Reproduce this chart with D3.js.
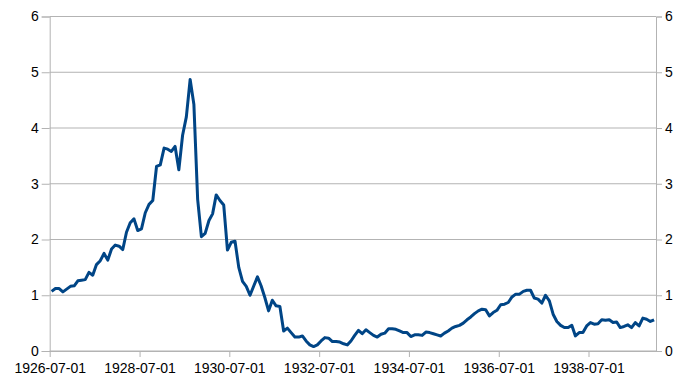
<!DOCTYPE html>
<html>
<head>
<meta charset="utf-8">
<script src="https://cdn.jsdelivr.net/npm/d3@7"></script>
<style>
  body { margin: 0; background: #fff; }
  text { font-family: "Liberation Sans", Arial, sans-serif; font-size: 14px; fill: #000; }
</style>
</head>
<body>
<svg id="chart" width="687" height="386"></svg>
<script>
// monthly values, one array per year (1926 starts in July)
const v1926 = [1.07, 1.12, 1.12, 1.06, 1.11, 1.16];
const v1927 = [1.17, 1.26, 1.27, 1.28, 1.41, 1.36, 1.55, 1.62, 1.75, 1.63, 1.83, 1.90];
const v1928 = [1.88, 1.82, 2.13, 2.30, 2.37, 2.16, 2.19, 2.48, 2.63, 2.70, 3.31, 3.34];
const v1929 = [3.64, 3.62, 3.58, 3.67, 3.25, 3.87, 4.20, 4.87, 4.42, 2.72, 2.05, 2.11];
const v1930 = [2.34, 2.46, 2.80, 2.70, 2.62, 1.81, 1.95, 1.97, 1.50, 1.25, 1.16, 1.00];
const v1931 = [1.17, 1.33, 1.17, 0.96, 0.72, 0.91, 0.81, 0.80, 0.36, 0.41, 0.33, 0.25];
const v1932 = [0.25, 0.27, 0.18, 0.11, 0.08, 0.11, 0.18, 0.24, 0.23, 0.17, 0.17, 0.16];
const v1933 = [0.13, 0.11, 0.18, 0.28, 0.37, 0.31, 0.38, 0.33, 0.28, 0.25, 0.30, 0.32];
const v1934 = [0.40, 0.40, 0.39, 0.36, 0.33, 0.33, 0.26, 0.29, 0.29, 0.28, 0.34, 0.33];
const v1935 = [0.31, 0.29, 0.27, 0.32, 0.36, 0.41, 0.44, 0.46, 0.50, 0.56, 0.61, 0.67];
const v1936 = [0.72, 0.75, 0.74, 0.63, 0.69, 0.73, 0.83, 0.84, 0.87, 0.97, 1.02, 1.02];
const v1937 = [1.07, 1.09, 1.09, 0.95, 0.93, 0.86, 1.00, 0.90, 0.66, 0.53, 0.46, 0.42];
const v1938 = [0.42, 0.46, 0.27, 0.33, 0.33, 0.45, 0.51, 0.48, 0.49, 0.56, 0.55, 0.56];
const v1939 = [0.51, 0.52, 0.42, 0.44, 0.47, 0.42, 0.51, 0.45, 0.59, 0.57, 0.53, 0.56];

const startMonth = new Date(1926, 6, 1);
const xTickLabels = ["1926-07-01", "1928-07-01", "1930-07-01", "1932-07-01",
                     "1934-07-01", "1936-07-01", "1938-07-01"];
const yTicks = [0, 1, 2, 3, 4, 5, 6];

const values = [].concat(v1926, v1927, v1928, v1929, v1930, v1931, v1932,
                         v1933, v1934, v1935, v1936, v1937, v1938, v1939);
const data = values.map((v, i) => ({ date: d3.timeMonth.offset(startMonth, i), v: v }));

const plotLeft = 49.7, plotRight = 656, plotTop = 16.5, plotBottom = 351;
const svg = d3.select("#chart");

const x = d3.scaleTime()
    .domain([startMonth, d3.timeMonth.offset(startMonth, 162)])
    .range([plotLeft, plotRight]);
const y = d3.scaleLinear().domain([0, 6]).range([plotBottom, plotTop]);

// points sit in the middle of their month
const xMid = d => (x(d) + x(d3.timeMonth.offset(d, 1))) / 2;

// gridlines
svg.append("g")
    .selectAll("line")
    .data(yTicks)
    .enter().append("line")
    .attr("x1", plotLeft).attr("x2", plotRight)
    .attr("y1", d => y(d)).attr("y2", d => y(d))
    .attr("stroke", "#b3b3b3").attr("stroke-width", 1);

// left axis
const yl = svg.append("g")
    .attr("transform", "translate(" + plotLeft + ",0)")
    .call(d3.axisLeft(y).tickValues(yTicks).tickFormat(d3.format("d")).tickSize(8).tickPadding(3));
// right axis
const yr = svg.append("g")
    .attr("transform", "translate(" + plotRight + ",0)")
    .call(d3.axisRight(y).tickValues(yTicks).tickFormat(d3.format("d")).tickSize(6).tickPadding(3));
// bottom axis
const xTickDates = xTickLabels.map(s => d3.timeParse("%Y-%m-%d")(s));
const xa = svg.append("g")
    .attr("transform", "translate(0," + plotBottom + ")")
    .call(d3.axisBottom(x).tickValues(xTickDates).tickFormat(d3.timeFormat("%Y-%m-%d")).tickSize(6).tickPadding(6));

[yl, yr, xa].forEach(g => {
    g.select(".domain").attr("stroke", "#b3b3b3").attr("stroke-width", 1);
    g.selectAll(".tick line").attr("stroke", "#b3b3b3");
    g.selectAll("text").attr("font-size", 14).attr("font-family", "Liberation Sans, Arial, sans-serif").attr("fill", "#000");
});
xa.select(".domain").attr("d", "M" + plotLeft + ",0.5H" + plotRight);

// the series
const line = d3.line()
    .x(d => xMid(d.date))
    .y(d => y(d.v));

svg.append("path")
    .datum(data)
    .attr("fill", "none")
    .attr("stroke", "#004586")
    .attr("stroke-width", 3)
    .attr("stroke-linejoin", "round")
    .attr("d", line);
</script>
</body>
</html>
